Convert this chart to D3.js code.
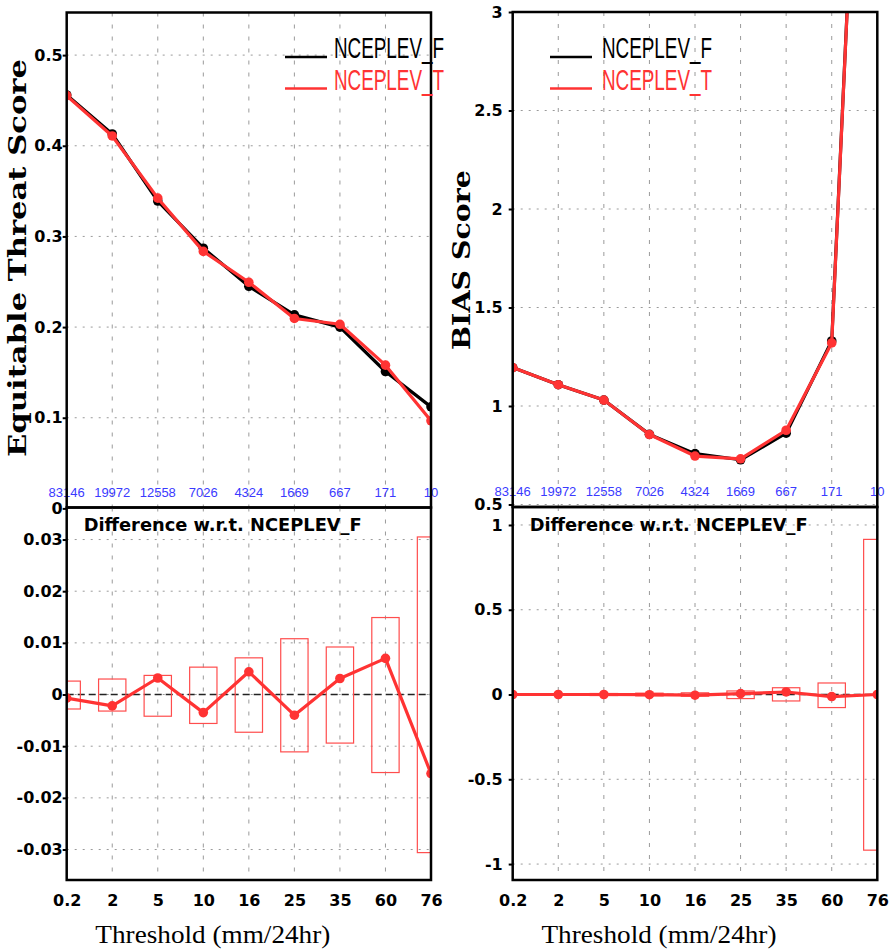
<!DOCTYPE html>
<html>
<head>
<meta charset="utf-8">
<script src="https://cdn.jsdelivr.net/npm/d3@7"></script>
<style>
  html, body { margin: 0; padding: 0; background: #fff; }
  svg { display: block; }
</style>
</head>
<body>
<div id="chart"></div>
<script>
// ---------------- data ----------------
const thresholds = ["0.2", "2", "5", "10", "16", "25", "35", "60", "76"];
const obsCounts  = ["83146", "19972", "12558", "7026", "4324", "1669", "667", "171", "10"];
const seriesNames = ["NCEPLEV_F", "NCEPLEV_T"];

const etsF = [0.456, 0.413, 0.339, 0.287, 0.245, 0.2135, 0.200, 0.151, 0.112];
const etsT = [0.4553, 0.4108, 0.3422, 0.2835, 0.2494, 0.2095, 0.2031, 0.158, 0.0967];
const etsDiff  = [-0.0007, -0.0022, 0.0032, -0.0035, 0.0044, -0.0040, 0.0031, 0.0070, -0.0153];
const etsBoxHi = [0.0026, 0.0030, 0.0037, 0.0053, 0.0071, 0.0108, 0.0092, 0.0149, 0.0305];
const etsBoxLo = [-0.0028, -0.0032, -0.0042, -0.0056, -0.0073, -0.0111, -0.0094, -0.0151, -0.0306];

const biasF = [1.195, 1.108, 1.030, 0.856, 0.758, 0.727, 0.862, 1.330, 6.30];
const biasT = [1.195, 1.108, 1.030, 0.855, 0.746, 0.732, 0.877, 1.320, 6.30];
const biasDiff  = [0, 0, 0, -0.001, -0.004, 0.005, 0.015, -0.012, 0];
const biasBoxHi = [0.004, 0.005, 0.006, 0.008, 0.010, 0.021, 0.040, 0.068, 0.915];
const biasBoxLo = [-0.004, -0.005, -0.006, -0.008, -0.010, -0.024, -0.038, -0.077, -0.918];

const etsTicks = [0, 0.1, 0.2, 0.3, 0.4, 0.5];
const etsDiffTicks = [-0.03, -0.02, -0.01, 0, 0.01, 0.02, 0.03];
const biasTicks = [0.5, 1, 1.5, 2, 2.5, 3];
const biasDiffTicks = [-1, -0.5, 0, 0.5, 1];

// ---------------- layout ----------------
const W = 889, H = 951;
const BLACK = "#000", RED = "#ff3333", BOXRED = "#ff4d4d", BLUE = "#3a3aff", GRID = "#9a9a9a";

const svg = d3.select("#chart").append("svg")
  .attr("width", W).attr("height", H)
  .style("background", "#fff");

const panels = [
  {key:"etsTop", x0:66.7, x1:431, y0:12.5, y1:507.5, dom:[0, 0.547], rng:[508.4, 12.5], ticks:etsTicks, pad:0},
  {key:"etsBot", x0:66.7, x1:431, y0:507.5, y1:880, dom:[-0.0359, 0.0362], rng:[880, 507.5], ticks:etsDiffTicks, pad:0},
  {key:"biasTop", x0:512.7, x1:877.3, y0:12, y1:507, dom:[0.5, 3], rng:[504.5, 12], ticks:biasTicks, pad:6},
  {key:"biasBot", x0:512.7, x1:877.3, y0:507, y1:880, dom:[-1.094, 1.106], rng:[880, 507], ticks:biasDiffTicks, pad:6}
];

panels.forEach(p => {
  p.x = d3.scalePoint().domain(thresholds).range([p.x0, p.x1]);
  p.y = d3.scaleLinear().domain(p.dom).range(p.rng);
  p.step = p.x.step();
  svg.append("clipPath").attr("id", "clip-" + p.key)
    .append("rect").attr("x", p.x0).attr("y", p.y0)
    .attr("width", p.x1 - p.x0).attr("height", p.y1 - p.y0);
  p.g = svg.append("g");
  p.plot = p.g.append("g").attr("clip-path", `url(#clip-${p.key})`);

  // vertical grid
  p.plot.selectAll(".vg").data(thresholds.slice(1, -1)).join("line")
    .attr("x1", d => p.x(d)).attr("x2", d => p.x(d))
    .attr("y1", p.y0).attr("y2", p.y1)
    .attr("stroke", GRID).attr("stroke-width", 1).attr("stroke-dasharray", "4,8");
  // horizontal grid
  p.plot.selectAll(".hg").data(p.ticks).join("line")
    .attr("x1", p.x0).attr("x2", p.x1)
    .attr("y1", d => p.y(d)).attr("y2", d => p.y(d))
    .attr("stroke", GRID).attr("stroke-width", 1).attr("stroke-dasharray", "2,6");

  // y axis
  const ax = p.g.append("g").attr("transform", `translate(${p.x0},0)`)
    .call(d3.axisLeft(p.y).tickValues(p.ticks).tickSize(4).tickPadding(p.pad).tickFormat(d => String(d)));
  ax.select(".domain").remove();
  ax.selectAll("line").attr("stroke", BLACK).attr("stroke-width", 2);
  ax.selectAll("text").attr("font-family", "DejaVu Sans").attr("font-weight", "bold")
    .attr("font-size", 16).attr("fill", BLACK);
});

const [pET, pED, pBT, pBD] = panels;

// ---------------- helpers ----------------
function drawSeries(p, vals, color, width, r) {
  const line = d3.line().x((d, i) => p.x(thresholds[i])).y(d => p.y(d));
  p.plot.append("path").datum(vals).attr("d", line)
    .attr("fill", "none").attr("stroke", color).attr("stroke-width", width)
    .attr("stroke-linejoin", "round");
  p.plot.selectAll(null).data(vals).join("circle")
    .attr("cx", (d, i) => p.x(thresholds[i])).attr("cy", d => p.y(d))
    .attr("r", r).attr("fill", color);
}
function drawBoxes(p, hi, lo) {
  p.plot.selectAll(null).data(thresholds).join("rect")
    .attr("x", d => p.x(d) - 0.3 * p.step)
    .attr("width", 0.6 * p.step)
    .attr("y", (d, i) => p.y(hi[i]))
    .attr("height", (d, i) => p.y(lo[i]) - p.y(hi[i]))
    .attr("fill", "none").attr("stroke", BOXRED).attr("stroke-width", 1.2);
}
function zeroLine(p) {
  p.plot.append("line").attr("x1", p.x0).attr("x2", p.x1)
    .attr("y1", p.y(0)).attr("y2", p.y(0))
    .attr("stroke", "#222").attr("stroke-width", 1.5).attr("stroke-dasharray", "7,4");
}
function frame(p) {
  p.g.append("rect").attr("x", p.x0).attr("y", p.y0)
    .attr("width", p.x1 - p.x0).attr("height", p.y1 - p.y0)
    .attr("fill", "none").attr("stroke", BLACK).attr("stroke-width", 2.5);
}
function counts(p) {
  p.g.selectAll(null).data(thresholds).join("text")
    .attr("x", d => p.x(d)).attr("y", p.y1 - 11)
    .attr("text-anchor", "middle").attr("font-family", "Liberation Sans")
    .attr("font-size", 13).attr("fill", BLUE)
    .text((d, i) => obsCounts[i]);
}
function legend(p, lx, tx) {
  const rows = [{name: seriesNames[0], c: BLACK, ly: 57, by: 58}, {name: seriesNames[1], c: RED, ly: 88.5, by: 90}];
  rows.forEach(r => {
    p.g.append("line").attr("x1", lx).attr("x2", lx + 42).attr("y1", r.ly).attr("y2", r.ly)
      .attr("stroke", r.c).attr("stroke-width", 2.5);
    p.g.append("text").attr("x", tx).attr("y", r.by)
      .attr("font-family", "Liberation Sans").attr("font-size", 29).attr("fill", r.c)
      .attr("textLength", 110).attr("lengthAdjust", "spacingAndGlyphs")
      .text(r.name);
  });
}
function diffTitle(p) {
  p.g.append("text").attr("x", p.x0 + 17).attr("y", 531)
    .attr("font-family", "DejaVu Sans").attr("font-weight", "bold").attr("font-size", 18)
    .attr("textLength", 278).attr("lengthAdjust", "spacingAndGlyphs")
    .attr("fill", BLACK).text("Difference w.r.t. " + seriesNames[0]);
}
function xAxis(p) {
  const ax = p.g.append("g").attr("transform", `translate(0,${p.y1})`)
    .call(d3.axisBottom(p.x).tickSize(0).tickPadding(15));
  ax.select(".domain").remove();
  ax.selectAll("text").attr("font-family", "DejaVu Sans").attr("font-weight", "bold")
    .attr("font-size", 16).attr("fill", BLACK);
  p.g.append("text").attr("x", (p.x0 + p.x1) / 2 - 36).attr("y", 943)
    .attr("text-anchor", "middle").attr("font-family", "Liberation Serif")
    .attr("font-size", 25).attr("textLength", 235).attr("lengthAdjust", "spacingAndGlyphs")
    .attr("fill", BLACK).text("Threshold (mm/24hr)");
}

// ---------------- ETS top ----------------
drawSeries(pET, etsF, BLACK, 3.2, 4.8);
drawSeries(pET, etsT, RED, 3.2, 4.8);
counts(pET);
frame(pET);
legend(pET, 285, 334);
svg.append("text").attr("transform", "translate(26,258) rotate(-90)")
  .attr("text-anchor", "middle").attr("font-family", "DejaVu Serif").attr("font-weight", "bold")
  .attr("font-size", 25).attr("textLength", 398).attr("lengthAdjust", "spacingAndGlyphs")
  .attr("fill", BLACK).text("Equitable Threat Score");

// ---------------- ETS diff ----------------
zeroLine(pED);
drawBoxes(pED, etsBoxHi, etsBoxLo);
drawSeries(pED, etsDiff, RED, 3.2, 4.8);
frame(pED);
diffTitle(pED);
xAxis(pED);

// ---------------- BIAS top ----------------
drawSeries(pBT, biasF, BLACK, 3.2, 4.8);
drawSeries(pBT, biasT, RED, 3.2, 4.8);
counts(pBT);
frame(pBT);
legend(pBT, 550, 602);
svg.append("text").attr("transform", "translate(470,260) rotate(-90)")
  .attr("text-anchor", "middle").attr("font-family", "DejaVu Serif").attr("font-weight", "bold")
  .attr("font-size", 25).attr("textLength", 180).attr("lengthAdjust", "spacingAndGlyphs")
  .attr("fill", BLACK).text("BIAS Score");

// ---------------- BIAS diff ----------------
zeroLine(pBD);
drawBoxes(pBD, biasBoxHi, biasBoxLo);
drawSeries(pBD, biasDiff, RED, 3.2, 4.8);
frame(pBD);
diffTitle(pBD);
xAxis(pBD);
</script>
</body>
</html>
